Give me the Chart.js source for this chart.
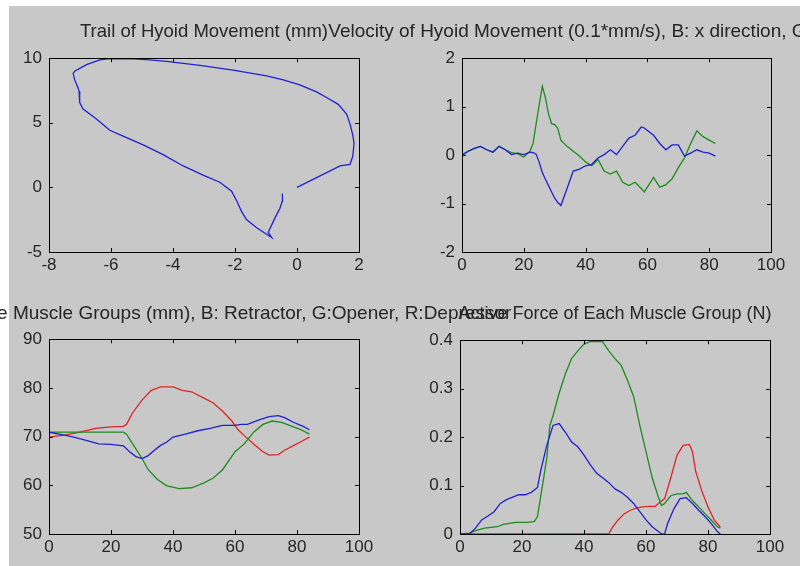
<!DOCTYPE html>
<html>
<head>
<meta charset="utf-8">
<script src="https://cdn.jsdelivr.net/npm/chart.js@4.4.0/dist/chart.umd.min.js"></script>
<style>
  body { margin: 0; width: 800px; height: 566px; overflow: hidden; background: #fff; }
  #fig { position: absolute; left: 9px; top: 6px; width: 791px; height: 560px; background: #c8c8c8; }
  .plot { position: absolute; }
  .ttl { position: absolute; white-space: nowrap; font: 18px "Liberation Sans", Arial, sans-serif;
         color: #262626; transform: translate(-50%, -50%); }
</style>
</head>
<body>
<div id="fig"></div>
<canvas id="c1" class="plot"></canvas>
<canvas id="c2" class="plot"></canvas>
<canvas id="c3" class="plot"></canvas>
<canvas id="c4" class="plot"></canvas>
<div class="ttl" style="left:204px; top:31px; font-size:18.5px;">Trail of Hyoid Movement (mm)</div>
<div class="ttl" style="left:616px; top:31px; font-size:19px;">Velocity of Hyoid Movement (0.1*mm/s), B: x direction, G: y direction</div>
<div class="ttl" style="left:204px; top:313px; font-size:19px;">Length of the Muscle Groups (mm), B: Retractor, G:Opener, R:Depressor</div>
<div class="ttl" style="left:615px; top:313px;">Active Force of Each Muscle Group (N)</div>
<script>
// trajectoire de l'os hyoide (x, y en mm)
const trailX = [0, 1.39, 1.71, 1.8, 1.84, 1.8, 1.71, 1.6, 1.33, 1.01, 0.63, 0.09, -0.44, -0.98, -2.06, -3.13,
  -4.21, -4.75, -5.29, -6.04, -6.36, -6.79, -7.17, -7.22, -7.17, -7.06, -7.03, -7.01, -6.9, -6.47, -6.04,
  -5.61, -4.96, -4.32, -3.67, -3.03, -2.49, -2.11, -1.93, -1.79, -1.63, -1.3, -0.98, -0.82, -0.93, -0.71,
  -0.55, -0.48, -0.47];
const trailY = [0, 1.66, 1.78, 2.41, 3.42, 4.05, 4.92, 5.68, 6.43, 6.88, 7.39, 7.94, 8.32, 8.64, 9.07, 9.45,
  9.75, 9.87, 9.95, 9.97, 9.87, 9.5, 9.0, 8.82, 8.32, 7.69, 7.44, 6.56, 6.06, 5.3, 4.42,
  3.97, 3.29, 2.54, 1.66, 0.95, 0.4, -0.3, -1.11, -1.86, -2.49, -3.12, -3.62, -3.87, -3.49, -2.36,
  -1.61, -1.1, -0.48];

// vitesse (0.1*mm/s)
const velT = [0, 2, 4, 6, 8, 10, 12, 14, 16, 18, 20, 22, 23, 24, 25, 26, 27, 28, 29, 30, 31, 32, 34, 36, 38, 40,
  42, 44, 46, 48, 50, 52, 54, 56, 58, 59, 60, 62, 64, 66, 68, 70, 72, 74, 76, 78, 80, 82];
const velX = [0, 0.08, 0.14, 0.18, 0.11, 0.06, 0.18, 0.11, 0.01, 0.04, 0.01, 0.06, 0.05, 0.02, -0.15, -0.36,
  -0.5, -0.63, -0.76, -0.89, -0.98, -1.04, -0.69, -0.33, -0.29, -0.22, -0.19, -0.06, 0.01, 0.11, 0.01, 0.18,
  0.35, 0.41, 0.58, 0.56, 0.51, 0.41, 0.24, 0.11, 0.21, 0.21, -0.02, 0.04, 0.11, 0.06, 0.04, -0.02];
const velY = [0, 0.08, 0.14, 0.18, 0.11, 0.06, 0.18, 0.11, 0.05, 0.03, -0.04, 0.08, 0.24, 0.65, 1.05, 1.42,
  1.18, 0.85, 0.65, 0.63, 0.55, 0.31, 0.18, 0.08, -0.02, -0.14, -0.22, -0.09, -0.33, -0.39, -0.33, -0.56,
  -0.63, -0.56, -0.69, -0.76, -0.66, -0.46, -0.66, -0.61, -0.49, -0.26, -0.06, 0.24, 0.5, 0.38, 0.31, 0.24];

// longueur des groupes musculaires (mm)
const lenRedT = [0, 5, 10, 15, 20, 24, 25, 27, 30, 33, 36, 40, 43, 46, 50, 53, 56, 59, 61, 63, 66, 69, 71, 74, 76, 79, 82, 84];
const lenRed = [69.9, 70.3, 70.9, 71.7, 72, 72.1, 72.5, 74.9, 77.5, 79.5, 80.2, 80.2, 79.5, 79.2, 77.9, 76.9,
  75.2, 73.2, 71.4, 70.2, 68.5, 66.9, 66.2, 66.3, 67.2, 68.2, 69.2, 69.9];
const lenGreenT = [0, 24, 25, 27, 30, 32, 35, 38, 42, 46, 50, 53, 56, 60, 63, 66, 69, 72, 75, 78, 81, 84];
const lenGreen = [70.9, 70.9, 70.5, 68.5, 65.5, 63.2, 61.2, 59.9, 59.3, 59.5, 60.5, 61.5, 63.2, 66.9, 68.5,
  70.9, 72.5, 73.2, 72.9, 72.2, 71.5, 70.5];
const lenBlueT = [0, 5, 8, 12, 16, 20, 24, 26, 28, 30, 32, 34, 36, 38, 40, 44, 48, 52, 56, 60, 62, 64, 68, 71, 74, 76, 79, 82, 84];
const lenBlue = [70.9, 70.3, 69.9, 69.2, 68.5, 68.4, 68.1, 66.9, 65.9, 65.5, 66.1, 67.2, 68.2, 68.9, 69.9,
  70.5, 71.2, 71.7, 72.3, 72.3, 72.5, 72.5, 73.5, 74.1, 74.3, 73.9, 72.9, 72.1, 71.4];

// force active (N)
const forceBlueT = [0, 3, 5, 7, 9, 11, 13, 15, 17, 19, 21, 23, 25, 26, 28, 30, 32, 34, 36, 38, 40, 42, 44, 46,
  48, 50, 52, 54, 56, 58, 60, 62, 64, 65, 66, 67, 69, 71, 73, 75, 77, 79, 81, 83, 84];
const forceBlue = [0, 0, 0.012, 0.029, 0.037, 0.046, 0.063, 0.071, 0.076, 0.081, 0.081, 0.086, 0.096, 0.13,
  0.183, 0.224, 0.228, 0.21, 0.19, 0.18, 0.163, 0.143, 0.126, 0.116, 0.106, 0.093, 0.086, 0.076, 0.063,
  0.046, 0.029, 0.015, 0.005, 0, 0, 0.022, 0.052, 0.073, 0.075, 0.063, 0.049, 0.036, 0.022, 0.005, 0];
const forceGreenT = [0, 3, 5, 8, 12, 14, 18, 22, 24, 25, 26, 27, 28, 29, 30, 32, 34, 36, 38, 40, 42, 44, 46,
  48, 50, 52, 54, 56, 58, 60, 62, 64, 65, 66, 68, 70, 72, 73, 75, 77, 79, 81, 83, 84];
const forceGreen = [0, 0.002, 0.007, 0.012, 0.015, 0.02, 0.024, 0.024, 0.026, 0.036, 0.076, 0.116, 0.157,
  0.224, 0.244, 0.291, 0.331, 0.362, 0.378, 0.392, 0.397, 0.397, 0.397, 0.378, 0.362, 0.348, 0.318, 0.284,
  0.224, 0.17, 0.116, 0.076, 0.059, 0.063, 0.079, 0.083, 0.083, 0.086, 0.069, 0.056, 0.042, 0.029, 0.015, 0.012];
const forceRedT = [0, 48, 49, 51, 53, 55, 57, 59, 61, 63, 64, 66, 68, 70, 72, 74, 75, 76, 78, 80, 82, 84];
const forceRed = [0, 0, 0.012, 0.029, 0.042, 0.049, 0.054, 0.056, 0.057, 0.057, 0.063, 0.073, 0.116, 0.163,
  0.183, 0.185, 0.17, 0.13, 0.089, 0.056, 0.029, 0.014];

const BLUE = '#2020d0', GREEN = '#1c8c1c', RED = '#e02424';
const FONT = { family: '"Liberation Sans", Arial, sans-serif', size: 17 };

// boite + graduations vers l'interieur, facon matlab
const boxPlugin = {
  id: 'boxPlugin',
  afterDatasetsDraw(chart) {
    const { ctx, chartArea: a, scales } = chart;
    ctx.save();
    ctx.strokeStyle = '#000';
    ctx.lineWidth = 1;
    ctx.beginPath();
    scales.x.ticks.forEach(t => {
      const px = Math.round(scales.x.getPixelForValue(t.value)) + 0.5;
      ctx.moveTo(px, a.bottom); ctx.lineTo(px, a.bottom - 4);
      ctx.moveTo(px, a.top); ctx.lineTo(px, a.top + 4);
    });
    scales.y.ticks.forEach(t => {
      const py = Math.round(scales.y.getPixelForValue(t.value)) + 0.5;
      ctx.moveTo(a.left, py); ctx.lineTo(a.left + 4, py);
      ctx.moveTo(a.right, py); ctx.lineTo(a.right - 4, py);
    });
    ctx.stroke();
    ctx.strokeRect(Math.round(a.left) + 0.5, Math.round(a.top) + 0.5,
      Math.round(a.right - a.left), Math.round(a.bottom - a.top));
    ctx.restore();
  }
};

function toPts(xs, ys) {
  return xs.map((x, i) => ({ x: x, y: ys[i] }));
}

function makePlot(id, box, series, xr, yr) {
  const padL = 45, padT = 12, padR = 25, padB = 30;
  const cv = document.getElementById(id);
  const w = box.right - box.left + padL + padR;
  const h = box.bottom - box.top + padT + padB;
  cv.style.left = (box.left - padL) + 'px';
  cv.style.top = (box.top - padT) + 'px';
  cv.style.width = w + 'px';
  cv.style.height = h + 'px';
  cv.width = w; cv.height = h;

  return new Chart(cv.getContext('2d'), {
    type: 'scatter',
    data: {
      datasets: series.map(s => ({
        data: toPts(s.x, s.y),
        showLine: true,
        borderColor: s.color,
        borderWidth: 1.3,
        pointRadius: 0,
        tension: 0,
        fill: false
      }))
    },
    options: {
      responsive: false,
      animation: false,
      layout: { padding: { top: padT, right: padR, left: 0, bottom: 0 } },
      plugins: { legend: { display: false }, tooltip: { enabled: false } },
      scales: {
        x: {
          type: 'linear', min: xr[0], max: xr[1],
          grid: { display: false, drawTicks: false }, border: { display: false },
          ticks: { stepSize: xr[2], color: '#262626', font: FONT, padding: 3, maxRotation: 0 },
          afterFit: s => { s.height = padB; }
        },
        y: {
          type: 'linear', min: yr[0], max: yr[1],
          grid: { display: false, drawTicks: false }, border: { display: false },
          ticks: { stepSize: yr[2], color: '#262626', font: FONT, padding: 7 },
          afterFit: s => { s.width = padL; }
        }
      }
    },
    plugins: [boxPlugin]
  });
}

makePlot('c1', { left: 49, right: 359, top: 53, bottom: 252 },
  [{ x: trailX, y: trailY, color: BLUE }], [-8, 2, 2], [-5, 10, 5]);

makePlot('c2', { left: 462, right: 771, top: 53, bottom: 252 },
  [{ x: velT, y: velX, color: BLUE }, { x: velT, y: velY, color: GREEN }], [0, 100, 20], [-2, 2, 1]);

makePlot('c3', { left: 49, right: 359, top: 334, bottom: 534 },
  [{ x: lenBlueT, y: lenBlue, color: BLUE }, { x: lenGreenT, y: lenGreen, color: GREEN },
   { x: lenRedT, y: lenRed, color: RED }], [0, 100, 20], [50, 90, 10]);

makePlot('c4', { left: 460, right: 770, top: 335, bottom: 534 },
  [{ x: forceBlueT, y: forceBlue, color: BLUE }, { x: forceGreenT, y: forceGreen, color: GREEN },
   { x: forceRedT, y: forceRed, color: RED }], [0, 100, 20], [0, 0.4, 0.1]);
</script>
</body>
</html>
